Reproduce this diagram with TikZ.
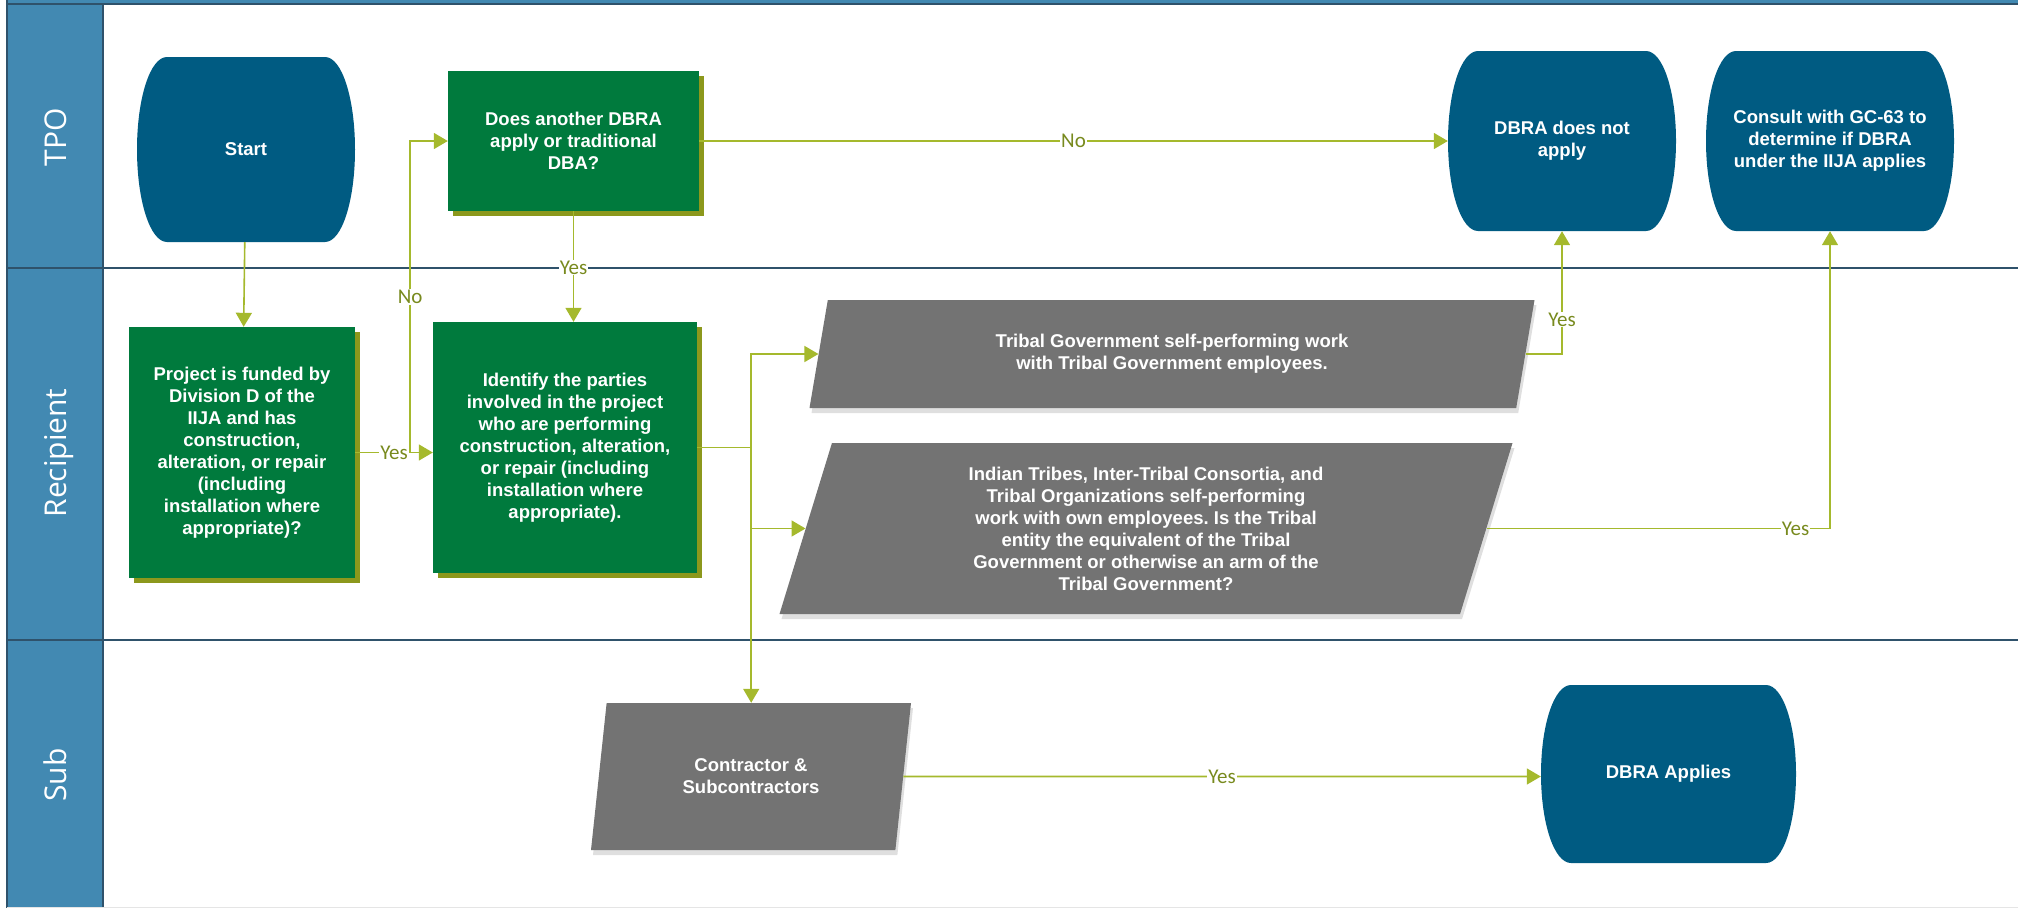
\documentclass[tikz,border=0pt]{standalone}
\usepackage{fontspec}
\setmainfont{Liberation Sans}
\newfontfamily\lanefont{Open Sans}
\newfontfamily\labelfont{Carlito}
\usepackage{tikz}
\usetikzlibrary{arrows.meta, positioning, calc, shapes.geometric, shadows}
\frenchspacing

\definecolor{lanehead}{RGB}{66,137,178}
\definecolor{laneline}{RGB}{47,82,107}
\definecolor{termblue}{RGB}{0,91,130}
\definecolor{boxgreen}{RGB}{0,122,61}
\definecolor{boxshade}{RGB}{140,152,28}
\definecolor{paragray}{RGB}{115,115,115}
\definecolor{linkolive}{RGB}{165,185,45}
\definecolor{labelolive}{RGB}{120,138,30}

\newcommand{\boxfont}{\fontsize{18.5}{22}\selectfont\bfseries}

\tikzset{
  terminal/.style={rectangle, inner sep=0pt, fill=white, text=white, font=\boxfont, align=center,
    path picture={
      \coordinate (nw) at (path picture bounding box.north west);
      \coordinate (ne) at (path picture bounding box.north east);
      \coordinate (sw) at (path picture bounding box.south west);
      \coordinate (se) at (path picture bounding box.south east);
      \coordinate (w) at (path picture bounding box.west);
      \coordinate (e) at (path picture bounding box.east);
      \fill [termblue] ($(nw)+(30,0)$) -- ($(ne)+(-30,0)$)
        .. controls ($(ne)+(-13,0)$) and ($(e)!0.55!(ne)$) .. (e)
        .. controls ($(e)!0.55!(se)$) and ($(se)+(-13,0)$) .. ($(se)+(-30,0)$)
        -- ($(sw)+(30,0)$)
        .. controls ($(sw)+(13,0)$) and ($(w)!0.55!(sw)$) .. (w)
        .. controls ($(w)!0.55!(nw)$) and ($(nw)+(13,0)$) .. cycle;
    }},
  process/.style={rectangle, fill=boxgreen, inner sep=0pt, text=white, font=\boxfont, align=center,
    general shadow={fill=boxshade, shadow xshift=5pt, shadow yshift=-5pt}},
  dataio/.style={trapezium, trapezium stretches body, fill=paragray, inner sep=0pt, text=white,
    font=\boxfont, align=center, drop shadow={opacity=0.25, shadow xshift=2pt, shadow yshift=-5pt}},
  lanelbl/.style={rotate=90, anchor=base, text=white, font=\lanefont\fontsize{30}{34}\selectfont},
  link/.style={draw=linkolive, color=linkolive, line width=1.6pt},
  conn/.style={link, -{Triangle[length=14pt, width=16pt]}},
  lbl/.style={fill=white, text=labelolive, font=\labelfont\fontsize{21}{24}\selectfont, inner sep=1pt}
}

\begin{document}
\begin{tikzpicture}[x=1pt, y=-1pt]
  \useasboundingbox (0,0) rectangle (2018,908);

  \fill [lanehead] (7,0) rectangle (2018,4);
  \fill [lanehead] (7,4) rectangle (103,908);
  \draw [laneline, line width=1.5pt] (7,4) -- (2018,4);
  \draw [laneline, line width=1.5pt] (7,0) -- (7,908);
  \draw [laneline, line width=1.5pt] (103,4) -- (103,908);
  \draw [laneline, line width=1.5pt] (7,268) -- (2018,268);
  \draw [laneline, line width=1.5pt] (7,640) -- (2018,640);
  \draw [black!10] (7,907) -- (2018,907);

  \node (tpo) [lanelbl] at (66,137) {TPO};
  \node (recipient) [lanelbl] at (66,453) {Recipient};
  \node (sub) [lanelbl] at (66,775) {Sub};

  \node (start) [terminal, minimum width=218pt, minimum height=185pt] at (246,149.5) {Start};
  \node (does) [process, minimum width=251pt, minimum height=140pt] at (573.5,141)
    {Does another DBRA\\apply or traditional\\DBA?};
  \node (notapply) [terminal, minimum width=228pt, minimum height=180pt] at (1562,141)
    {DBRA does not\\apply};
  \node (consult) [terminal, minimum width=248pt, minimum height=180pt] at (1830,141)
    {Consult with GC-63 to\\determine if DBRA\\under the IIJA applies};

  \node (project) [process, minimum width=226pt, minimum height=251pt] at (242,452.5)
    {Project is funded by\\Division D of the\\IIJA and has\\construction,\\alteration, or repair\\(including\\installation where\\appropriate)?};
  \node (ident) [process, minimum width=264pt, minimum height=251pt] at (565,447.5)
    {Identify the parties\\involved in the project\\who are performing\\construction, alteration,\\or repair (including\\installation where\\appropriate).};
  \node (tribal) [dataio, trapezium left angle=65, trapezium right angle=115,
    minimum width=725pt, minimum height=108pt] at (1172,354)
    {Tribal Government self-performing work\\with Tribal Government employees.};
  \node (indian) [dataio, trapezium left angle=67, trapezium right angle=113,
    minimum width=733pt, minimum height=171pt] at (1146,528.5)
    {Indian Tribes, Inter-Tribal Consortia, and\\Tribal Organizations self-performing\\work with own employees. Is the Tribal\\entity the equivalent of the Tribal\\Government or otherwise an arm of the\\Tribal Government?};

  \node (contractor) [dataio, trapezium left angle=66, trapezium right angle=114,
    minimum width=320pt, minimum height=147pt] at (751,776.5)
    {Contractor \&\\Subcontractors};
  \node (applies) [terminal, minimum width=255pt, minimum height=178pt] at (1668.5,774)
    {DBRA Applies};

  \coordinate (nojoin) at ($(project.east)+(55,0)$);
  \coordinate (split) at ($(ident.east)+(54,0)$);

  \draw [conn] (start) -- (project);
  \draw [conn] (project) -- node [lbl] {Yes} (project -| ident.west);
  \draw [conn] (nojoin) |- node [lbl, pos=0.25] {No} (does);
  \draw [conn] (does) -- node [lbl, pos=0.51] {Yes} (does |- ident.north);
  \draw [conn] (does) -- node [lbl] {No} (notapply);
  \draw [link] (ident) -- (split);
  \draw [conn] (split) |- (tribal);
  \draw [conn] (split) |- (indian);
  \draw [conn] (split) -- (split |- contractor.north);
  \draw [conn] (tribal) -| node [lbl, pos=0.64] {Yes} (notapply);
  \draw [conn] (indian) -| node [lbl, pos=0.45] {Yes} (consult);
  \draw [conn] (contractor) -- node [lbl] {Yes} (contractor -| applies.west);
\end{tikzpicture}
\end{document}
